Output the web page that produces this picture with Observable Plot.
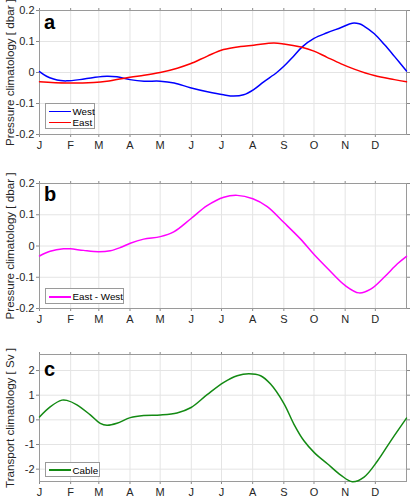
<!DOCTYPE html>
<html><head><meta charset="utf-8">
<script src="https://cdn.jsdelivr.net/npm/d3@7"></script>
<script src="https://cdn.jsdelivr.net/npm/@observablehq/plot@0.6"></script>
<style>
body{margin:0;background:#fff;}
#wrap{position:relative;width:410px;height:500px;font-family:"Liberation Sans",Arial,sans-serif;overflow:hidden;}
#wrap svg{display:block;}
.leg{position:absolute;background:#fff;border:1px solid #9a9a9a;box-sizing:border-box;}
.it{position:absolute;left:3px;height:13px;line-height:13px;font-size:9.8px;color:#000;white-space:nowrap;}
.sw{display:inline-block;width:22px;height:1.8px;vertical-align:middle;margin-right:2px;position:relative;top:-1px;}
</style></head>
<body><div id="wrap"></div>
<script>
const monthStarts = [0,31,59,90,120,151,181,212,243,273,304,334];
const monthLabels = ["J","F","M","A","M","J","J","A","S","O","N","D"];

const westDay = [0,7,14,21,27,40,54,67,77,90,104,120,134,150,167,183,193,203,213,223,236,243,252,261,273,286,300,311,318,323,333,343,353,365];
const westVal = [0.003,-0.012,-0.021,-0.026,-0.027,-0.023,-0.016,-0.012,-0.014,-0.023,-0.028,-0.028,-0.034,-0.049,-0.062,-0.072,-0.076,-0.072,-0.055,-0.030,0.0,0.020,0.050,0.082,0.110,0.128,0.145,0.159,0.157,0.149,0.125,0.090,0.052,0.005];

const eastDay = [0,27,54,67,90,104,120,137,150,167,183,200,213,233,243,260,273,286,300,313,333,353,365];
const eastVal = [-0.030,-0.034,-0.032,-0.028,-0.015,-0.009,0.0,0.014,0.028,0.053,0.074,0.084,0.088,0.095,0.092,0.082,0.069,0.049,0.028,0.011,-0.010,-0.023,-0.030];

const diffDay = [0,10.6,23.9,30.6,43.8,58.8,70.4,80.4,90.3,103.6,120.2,133.5,150.8,166.7,183.3,196.6,212.2,226.5,243.1,259.7,273.3,286.3,304.2,317.8,329.4,342.7,356,365];
const diffVal = [-0.032,-0.017,-0.009,-0.009,-0.014,-0.018,-0.015,-0.005,0.009,0.022,0.030,0.045,0.088,0.129,0.156,0.162,0.151,0.126,0.075,0.022,-0.028,-0.071,-0.127,-0.150,-0.138,-0.100,-0.057,-0.033];

const cableDay = [0,10.6,22.3,27.2,37.2,50.5,60.4,67.1,77,90.3,103.6,120.2,136.8,150.8,166.7,183.3,196.6,208.2,219.9,229.8,243.1,253.1,263,273.3,286.3,299.6,311.2,322.8,336.1,349.4,365];
const cableVal = [0.12,0.53,0.80,0.79,0.61,0.20,-0.14,-0.22,-0.14,0.09,0.18,0.20,0.28,0.50,1.02,1.52,1.79,1.87,1.79,1.45,0.66,-0.18,-0.85,-1.33,-1.78,-2.24,-2.51,-2.32,-1.67,-0.85,0.07];

const pTicks = [-0.2,-0.1,0,0.1,0.2];
const tTicks = [-2,-1,0,1,2];

const rows = (days, vals) => days.map((d,i) => ({day:d, v:vals[i]}));

function panel(o){
  return Plot.plot({
    width: 410, height: o.height,
    marginLeft: 39, marginRight: 4, marginTop: o.mt, marginBottom: o.mb,
    style: {fontFamily: "Liberation Sans, Arial, sans-serif", fontSize: "11px", color: "#262626", background: "#fff", overflow: "visible"},
    x: {domain: [0,365]},
    y: {domain: o.yDomain},
    marks: [
      Plot.gridX(monthStarts, {stroke: "#e4e4e4", strokeOpacity: 1}),
      Plot.gridY(o.yTicks, {stroke: "#e4e4e4", strokeOpacity: 1}),
      Plot.axisX({ticks: monthStarts, anchor: "bottom", tickSize: 3, tickPadding: 4, stroke: "#8a8a8a", label: null,
        tickFormat: d => monthLabels[monthStarts.indexOf(d)]}),
      Plot.axisX({ticks: monthStarts, anchor: "top", tickSize: 3, stroke: "#8a8a8a", label: null, tickFormat: () => ""}),
      Plot.axisY({ticks: o.yTicks, anchor: "left", tickSize: 3, tickPadding: 2, stroke: "#8a8a8a", label: null,
        tickFormat: d => String(d)}),
      Plot.axisY({ticks: o.yTicks, anchor: "right", tickSize: 3, stroke: "#8a8a8a", label: null, tickFormat: () => ""}),
      Plot.frame({stroke: "#9a9a9a"}),
      ...o.series.map(s => Plot.line(rows(s.days, s.vals), {x: "day", y: "v", stroke: s.color, strokeWidth: 1.5, curve: "catmull-rom"})),
      Plot.text([o.letter], {text: d => d, frameAnchor: "top-left", dx: 4.5, dy: o.ldy, lineAnchor: "bottom", textAnchor: "start", fontSize: 20, fontWeight: "bold", fill: "#000"}),
      Plot.text([o.ylabel], {text: d => d, frameAnchor: "left", dx: -29.3, rotate: -90, fontSize: 11.6, textAnchor: "middle", lineAnchor: "middle", fill: "#262626"})
    ]
  });
}

const wrap = document.getElementById("wrap");
wrap.append(panel({height: 165, mt: 10, mb: 31, yDomain: [-0.2,0.2], yTicks: pTicks, letter: "a", ldy: 18,
  ylabel: "Pressure climatology [ dbar ]",
  series: [{days: westDay, vals: westVal, color: "#0000ff"}, {days: eastDay, vals: eastVal, color: "#ff0000"}]}));
wrap.append(panel({height: 165, mt: 18, mb: 22, yDomain: [-0.2,0.2], yTicks: pTicks, letter: "b", ldy: 17,
  ylabel: "Pressure climatology [ dbar ]",
  series: [{days: diffDay, vals: diffVal, color: "#ff00ff"}]}));
wrap.append(panel({height: 170, mt: 24, mb: 19, yDomain: [-2.5,2.65], yTicks: tTicks, letter: "c", ldy: 21,
  ylabel: "Transport climatology [ Sv ]",
  series: [{days: cableDay, vals: cableVal, color: "#138a13"}]}));

function legend(left, top, w, h, items){
  const box = document.createElement("div");
  box.className = "leg";
  box.style.left = left + "px"; box.style.top = top + "px";
  box.style.width = w + "px"; box.style.height = h + "px";
  items.forEach(it => {
    const d = document.createElement("div");
    d.className = "it";
    d.style.top = (it.cy - 6.5) + "px";
    const sw = document.createElement("span");
    sw.className = "sw"; sw.style.background = it.color;
    d.append(sw, document.createTextNode(it.label));
    box.append(d);
  });
  wrap.append(box);
}
legend(44.5, 103, 50.5, 26, [{label: "West", color: "#0000ff", cy: 7.5}, {label: "East", color: "#ff0000", cy: 18.5}]);
legend(44.5, 288, 79, 16, [{label: "East - West", color: "#ff00ff", cy: 7.8}]);
legend(44.5, 462, 55, 15, [{label: "Cable", color: "#138a13", cy: 7}]);
</script>
</body></html>
